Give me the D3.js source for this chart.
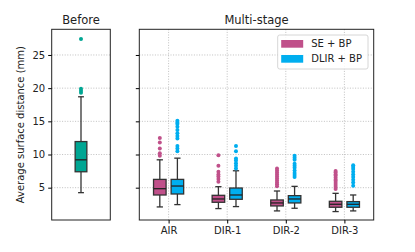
<!DOCTYPE html>
<html>
<head>
<meta charset="utf-8">
<script src="https://cdn.jsdelivr.net/npm/d3@7"></script>
<style>
	body{margin:0;background:#fff;}
	text{font-family:"DejaVu Sans",sans-serif;fill:#222;}
	.grid line{stroke:#b0b0b0;stroke-width:0.8;stroke-dasharray:1,1.6;}
</style>
</head>
<body>
<script>
//chart data
var categories=["AIR","DIR-1","DIR-2","DIR-3"];
var seriesNames=["SE + BP","DLIR + BP"];
var seriesColors=["#c0508a","#00aeef"];
var yTicks=[5,10,15,20,25];

//box stats: [whisker low, q1, median, q3, whisker high]
var beforeStats=[4.25,7.4,9.2,11.95,18.7];
var beforeOutliers=[27.4,19.9,19.6,19.3];

var seStats=[
	[2.1,3.9,4.85,6.25,9.2],
	[1.85,2.8,3.3,3.85,5.15],
	[1.5,2.25,2.7,3.15,4.5],
	[1.4,2.05,2.5,2.95,4.15]
];
var dlirStats=[
	[2.45,4.05,5.25,6.25,9.45],
	[2.15,3.25,3.9,4.95,7.55],
	[1.9,2.7,3.3,3.8,5.2],
	[1.5,2.05,2.5,2.9,3.9]
];
var seOutliers=[
	[12.5,11.8,10.9,10.2,9.8],
	[9.9,8.3,7.4,7.0,6.7,6.3,5.9],
	[7.9,7.6,7.3,7.0,6.7,6.4,6.1,5.8,5.5,5.2],
	[7.5,7.3,7.0,6.8,6.5,6.2,6.0,5.7,5.4,5.1,4.8]
];
var dlirOutliers=[
	[15.1,14.8,14.6,14.2,13.7,13.2,12.8,12.4,11.3,10.9,10.5],
	[11.3,10.5,9.4,9.1,8.7,8.3,7.9],
	[9.8,9.5,9.2,8.6,8.3,8.0,7.6,7.2,6.9,6.6],
	[8.4,8.1,7.8,7.4,7.0,6.6,6.2,5.8,5.3]
];

window.onload=drawChart();

function drawChart(){
	var width=415,height=252;
	var svg=d3.select("body").append("svg")
		.attr("width",width)
		.attr("height",height);

	var top=29.3,bottom=220;
	var y=d3.scaleLinear().domain([0.13,28.87]).range([bottom,top]);

	//left panel: before
	var xL=d3.scaleLinear().domain([0.5,1.5]).range([51.7,110.3]);
	//right panel: multi-stage
	var xR=d3.scaleLinear().domain([0.5,4.5]).range([139.3,373.7]);

	//y gridlines in both panels
	[xL,xR].forEach(function(x){
		svg.append("g").attr("class","grid")
			.selectAll("line").data(yTicks).enter().append("line")
			.attr("x1",x.range()[0]).attr("x2",x.range()[1])
			.attr("y1",function(d){return y(d);})
			.attr("y2",function(d){return y(d);});
	});
	//x gridlines in right panel
	svg.append("g").attr("class","grid")
		.selectAll("line").data(categories).enter().append("line")
		.attr("x1",function(d,i){return xR(i+1);})
		.attr("x2",function(d,i){return xR(i+1);})
		.attr("y1",top).attr("y2",bottom);

	//draw one box with whiskers and fliers
	function drawBox(x,center,halfW,stats,outliers,color){
		var g=svg.append("g");
		var xc=x(center);
		var w=x(center+halfW)-xc;
		g.append("line")
			.attr("x1",xc).attr("x2",xc)
			.attr("y1",y(stats[0])).attr("y2",y(stats[1]))
			.attr("stroke","#333").attr("stroke-width",1.3);
		g.append("line")
			.attr("x1",xc).attr("x2",xc)
			.attr("y1",y(stats[3])).attr("y2",y(stats[4]))
			.attr("stroke","#333").attr("stroke-width",1.3);
		[stats[0],stats[4]].forEach(function(v){
			g.append("line")
				.attr("x1",xc-w/2).attr("x2",xc+w/2)
				.attr("y1",y(v)).attr("y2",y(v))
				.attr("stroke","#333").attr("stroke-width",1.3);
		});
		g.append("rect")
			.attr("x",xc-w).attr("width",2*w)
			.attr("y",y(stats[3])).attr("height",y(stats[1])-y(stats[3]))
			.attr("fill",color).attr("stroke","#333").attr("stroke-width",1.3);
		g.append("line")
			.attr("x1",xc-w).attr("x2",xc+w)
			.attr("y1",y(stats[2])).attr("y2",y(stats[2]))
			.attr("stroke","#222").attr("stroke-width",1.3);
		g.selectAll("circle").data(outliers).enter().append("circle")
			.attr("cx",xc).attr("cy",function(d){return y(d);})
			.attr("r",2).attr("fill",color);
	}

	drawBox(xL,1,0.1,beforeStats,beforeOutliers,"#00a693");
	categories.forEach(function(c,i){
		drawBox(xR,i+1-0.15,0.107,seStats[i],seOutliers[i],seriesColors[0]);
		drawBox(xR,i+1+0.15,0.107,dlirStats[i],dlirOutliers[i],seriesColors[1]);
	});

	//frames
	[xL,xR].forEach(function(x){
		svg.append("rect")
			.attr("x",x.range()[0]).attr("y",top)
			.attr("width",x.range()[1]-x.range()[0]).attr("height",bottom-top)
			.attr("fill","none").attr("stroke","#222").attr("stroke-width",1);
	});

	//y axes
	var yAxisL=svg.append("g")
		.attr("transform","translate(51.7,0)")
		.call(d3.axisLeft(y).tickValues(yTicks).tickSize(3.5).tickPadding(3));
	yAxisL.select(".domain").remove();
	yAxisL.selectAll("text").style("font-size","10px").style("font-family","DejaVu Sans");
	var yAxisR=svg.append("g")
		.attr("transform","translate(139.3,0)")
		.call(d3.axisLeft(y).tickValues(yTicks).tickSize(3.5).tickFormat(""));
	yAxisR.select(".domain").remove();

	//x axis for the right panel
	var xAxis=svg.append("g")
		.attr("transform","translate(0,"+bottom+")")
		.call(d3.axisBottom(xR).tickValues([1,2,3,4]).tickSize(3.5).tickPadding(3)
			.tickFormat(function(d){return categories[d-1];}));
	xAxis.select(".domain").remove();
	xAxis.selectAll("text").style("font-size","10px").style("font-family","DejaVu Sans");

	//titles
	svg.append("text").attr("x",81).attr("y",24)
		.attr("text-anchor","middle").style("font-size","11.5px").text("Before");
	svg.append("text").attr("x",256.5).attr("y",24)
		.attr("text-anchor","middle").style("font-size","11.5px").text("Multi-stage");

	//y label
	svg.append("text")
		.attr("transform","translate(23.5,"+(top+bottom)/2+") rotate(-90)")
		.attr("text-anchor","middle").style("font-size","10px")
		.text("Average surface distance (mm)");

	//legend
	var legend=svg.append("g").attr("transform","translate(277.7,35)");
	legend.append("rect")
		.attr("width",90.3).attr("height",34).attr("rx",2)
		.attr("fill","#fff").attr("fill-opacity",0.85)
		.attr("stroke","#ccc").attr("stroke-width",0.8);
	seriesNames.forEach(function(n,i){
		legend.append("rect")
			.attr("x",3.5).attr("y",5+i*15)
			.attr("width",22).attr("height",7.7)
			.attr("fill",seriesColors[i]);
		legend.append("text")
			.attr("x",33.5).attr("y",12.3+i*15)
			.style("font-size","10px").text(n);
	});
}
</script>
</body>
</html>
